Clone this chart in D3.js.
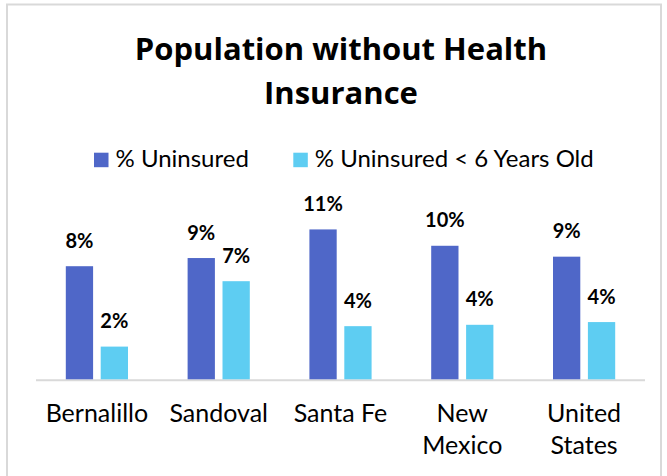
<!DOCTYPE html>
<html>
<head>
<meta charset="utf-8">
<script src="https://cdn.jsdelivr.net/npm/d3@7"></script>
<style>
  html, body { margin: 0; padding: 0; background: #ffffff; }
  svg { display: block; }
  text { font-family: Lato, "Open Sans", sans-serif; fill: #000; }
</style>
</head>
<body>
<svg id="chart" width="667" height="476"></svg>
<script>
// ---- data ----
const titleLines = ["Population without Health", "Insurance"];
const categories = ["Bernalillo", "Sandoval", "Santa Fe", "New Mexico", "United States"];
const categoryLines = [["Bernalillo"], ["Sandoval"], ["Santa Fe"], ["New", "Mexico"], ["United", "States"]];
const seriesNames = ["% Uninsured", "% Uninsured < 6 Years Old"];
const uninsured = [8.3, 8.9, 11.0, 9.8, 9.0];
const uninsuredUnder6 = [2.4, 7.2, 3.9, 4.0, 4.2];
const colors = ["#4F67C8", "#5ECDF2"];

const rows = categories.map((c, i) => ({
  cat: c, lines: categoryLines[i],
  values: [uninsured[i], uninsuredUnder6[i]]
}));

const svg = d3.select("#chart");

// chart border
svg.append("rect")
  .attr("x", 7).attr("y", 4.5).attr("width", 654).attr("height", 480)
  .attr("fill", "none").attr("stroke", "#d9d9d9").attr("stroke-width", 2);

// title
svg.append("text")
  .attr("text-anchor", "middle")
  .style("font-family", "'Open Sans', sans-serif")
  .style("font-weight", "bold").style("font-size", "31px")
  .selectAll("tspan").data(titleLines).join("tspan")
  .attr("x", 341).attr("y", (d, i) => 59.8 + i * 44)
  .text(d => d);

// scales
const x0 = d3.scaleBand().domain(categories).range([36, 645]).padding(0);
const x1 = d3.scaleBand().domain(seriesNames).range([0, x0.bandwidth()])
  .paddingInner(0.218).paddingOuter(0.854);
const y = d3.scaleLinear().domain([0, 12]).range([379.3, 215.8]);

// baseline axis
svg.append("line")
  .attr("x1", x0.range()[0]).attr("x2", x0.range()[1])
  .attr("y1", 380.3).attr("y2", 380.3)
  .attr("stroke", "#d9d9d9").attr("stroke-width", 2);

// bars
const groups = svg.append("g").selectAll("g").data(rows).join("g")
  .attr("transform", d => `translate(${x0(d.cat)},0)`);

groups.selectAll("rect")
  .data(d => d.values.map((v, k) => ({ v, s: seriesNames[k], k })))
  .join("rect")
  .attr("x", d => x1(d.s))
  .attr("width", x1.bandwidth())
  .attr("y", d => y(d.v))
  .attr("height", d => y(0) - y(d.v))
  .attr("fill", d => colors[d.k]);

groups.selectAll("text.lbl")
  .data(d => d.values.map((v, k) => ({ v, s: seriesNames[k], k })))
  .join("text").attr("class", "lbl")
  .attr("x", d => x1(d.s) + x1.bandwidth() / 2)
  .attr("y", d => y(d.v) - 18.5)
  .attr("text-anchor", "middle")
  .style("font-weight", "bold").style("font-size", "20px")
  .text(d => Math.round(d.v) + "%");

// category labels
svg.append("g").selectAll("text").data(rows).join("text")
  .attr("text-anchor", "middle")
  .style("font-size", "25px")
  .each(function (d) {
    d3.select(this).selectAll("tspan").data(d.lines).join("tspan")
      .attr("x", x0(d.cat) + x0.bandwidth() / 2)
      .attr("y", (t, i) => 422.3 + i * 31.7)
      .text(t => t);
  });

// legend
const legendItems = [
  { name: seriesNames[0], color: colors[0], x: 94 },
  { name: seriesNames[1], color: colors[1], x: 293.3 }
];
const lg = svg.append("g").selectAll("g").data(legendItems).join("g")
  .attr("transform", d => `translate(${d.x},0)`);
lg.append("rect").attr("x", 0).attr("y", 152.7).attr("width", 14.5).attr("height", 14.5)
  .attr("fill", d => d.color);
lg.append("text").attr("x", 21.5).attr("y", 167.3)
  .style("font-size", "24px").text(d => d.name);
</script>
</body>
</html>
